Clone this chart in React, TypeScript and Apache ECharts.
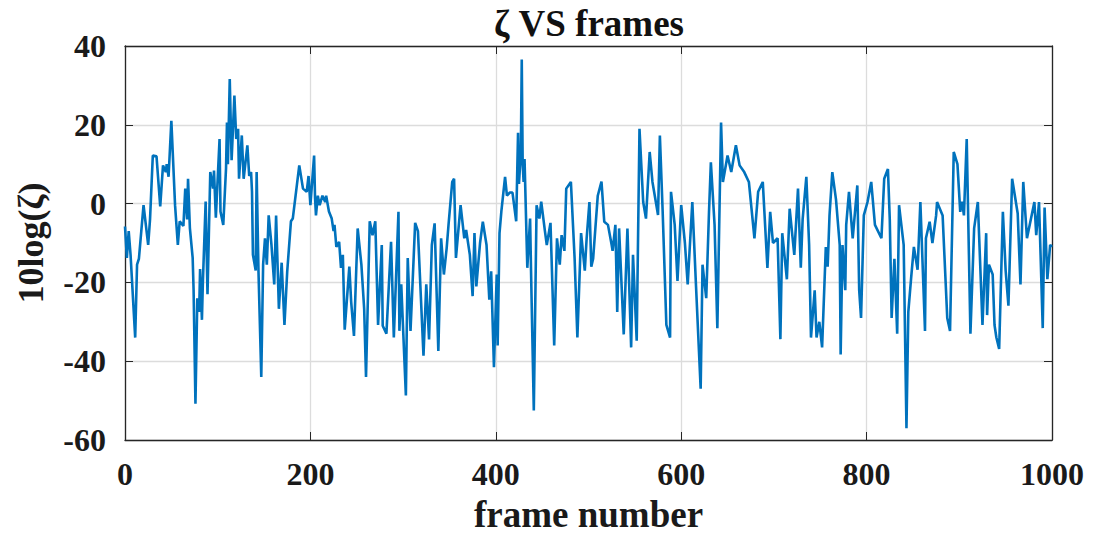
import React, { useEffect, useRef } from "react";
import * as echarts from "echarts";

// Frame indices at which the zeta trace is sampled
const frames: number[] = [
  0, 2, 4, 6, 11, 13, 15, 20, 25, 27, 30, 34, 38, 41, 44, 45, 47, 50, 54, 57,
  59, 63, 65, 67, 68, 70, 73, 74, 76, 78, 80, 81, 83, 84, 87, 89, 92, 95, 96, 98,
  102, 103, 106, 109, 110, 111, 113, 115, 118,
  120, 122, 123, 126, 128, 132, 134, 136, 137, 138, 141, 142, 144, 147, 149, 151,
  153, 155, 158, 161, 163, 166, 169, 172, 175, 179, 181, 188, 192, 196, 198, 200,
  204, 205, 206, 208, 210, 213, 216, 217, 220, 223, 225, 226, 228, 231, 233, 235, 237, 242,
  244, 247, 251, 255, 258, 260, 264, 267, 270, 273, 277, 278, 282, 287, 290, 295,
  296, 298, 303, 305, 308, 313, 316, 322, 325, 328, 331, 334, 338, 341, 344, 347,
  349, 353, 355, 357, 362, 366,
  368, 372, 375, 377, 379, 383, 386, 390, 393, 395, 398, 401, 402, 404, 406, 410,
  412, 415, 418, 422, 424, 425, 427, 428, 429, 430, 431, 434, 437, 438, 441, 444,
  447, 449, 453, 455, 459, 463, 466, 469, 471, 474, 476, 481, 485, 488, 492,
  496, 498, 501, 503, 505, 510, 514, 517, 521, 525, 526, 529, 531, 533, 538, 542,
  546, 548, 552, 555, 559, 562, 566, 569, 575, 577, 580, 584, 588, 589, 593, 596,
  600, 604, 607, 612, 616,
  621, 623, 627, 630, 632, 636, 639, 643, 645, 650, 654, 659, 663, 668, 673, 679,
  683, 688, 693, 696, 699, 704, 707, 709, 714, 717, 722, 726, 729, 731, 735, 738,
  740, 744, 746, 749, 752, 756, 758, 760, 763, 767, 771, 772, 774, 777, 778, 781,
  785, 790, 792, 794, 797, 801, 805, 809, 816, 819, 823, 825, 827, 830, 833, 835,
  840, 843, 845, 848, 851, 855, 858, 863,
  864, 868, 871, 875, 876, 882, 887, 890, 894, 898, 901, 903, 905, 908, 912, 916,
  920, 925, 929, 930, 932, 936, 938, 940, 943, 947, 950, 953, 957, 963, 966, 969,
  973, 981, 983, 986, 990, 992, 995, 998, 1000,
];

// 10log(zeta) in dB at each sampled frame
const zeta: number[] = [
  -5.8, -13.8, -7, -13, -34, -15.5, -14, -0.4, -10.5, -4, 12.2, 12, -0.7, 9.7, 8, 10, 6.8, 21, -0.4, -10.5,
  -4.5, -5.7, 3.8, -4, 6.3, -6.2, -13.8, -22, -50.8, -24, -27.5, -16.6, -29.5, -20, 0.5, -23, 8, 3.8, 8.4, -3.6,
  16.4, -2, -5.4, 9, 20.6, 10, 31.6, 11, 27.4,
  16.4, 19, 6.3, 17.3, 6.3, 14.8, 7, 8, 3, -13, -17, 8, -17.2, -44, -15.5, -8.8,
  -15.5, -3, -10.5, -20.5, -3, -26.7, -15, -30.8, -17.2, -4.5, -3.8, 9.7, 3.8, 3, 7, -0.4,
  12.2, 1.5, -3, 2, -0.4, 2, 0.4, 2, -2, -3.8, -7, -5.4, -11, -9.7, -16.3, -13, -32, -16,
  -25, -33.6, -6.3, -15.5, -26.7, -44, -4.5, -8, -4.5, -30.8, -10.5, -31, -33, -9.7, -34, -2.1,
  -32.3, -20.5, -48.7, -13.8, -32.3, -4.9, -7, -38.6, -20.5, -34.5, -10.5, -5, -37.4, -8.8, -18, -11.3,
  -5.4, 5.5, 6.3, -13.8, -0.4, -8.8,
  -6.7, -13, -23.5, -7.5, -21, -10, -4.6, -10.5, -24.4, -17.2, -41.5, -18, -36, -7.5, -2, 6.8,
  2, 2.8, 2.8, -4.5, 18, 5, 13, 36.6, 10, 5.5, 11.3, -16.3, -3.8, -17, -52.5, -0.4,
  -3.8, 0.5, -7, -10.5, -4.9, -36, -8.8, -15.5, -8, -12, 3.8, 5.5, -13.8, -34, -7.5,
  -17, -8.8, 0.4, -16, -14, 2, 5.6, -4.6, -5.4, -10.5, -12, -5.4, -27.5, -6.3, -33.2, -6.3,
  -36.5, -13, -34.8, 19, 0.4, -3.8, 13.1, 5.5, -2.9, 17.3, -2, -30.8, -34, 3, -5.4, -19.6,
  -0.4, -10, -20.5, 0.4, -21,
  -47, -15.5, -24, -2.1, 10.5, -5.4, -31.6, 20.6, 5.5, 12.2, 8, 14.8, 9.7, 8, 5.5, -8.8,
  3, 5.5, -16.3, -2.1, -10, -8.8, -34.4, -7.5, -19.2, -1.3, -13, 3.8, -16.3, -4, 6.8, -10.5,
  -34, -22, -34, -30, -36.5, -11, -16, -3, 8, 1, -10.5, -38.3, -10.5, -22, -5.4, 3,
  -8.8, 4.6, -22, -29, -3, 0.4, 5.5, -5.4, -8.8, 6.3, 8.8, -4, -29, -14, -33, -0.4,
  -10.5, -57, -27.5, -19, -11, -16.8, 0.4, -32.3,
  -8.8, -4.6, -10, -3, 0.4, -3, -29, -32.3, 13.1, 10, -2.1, 0.5, -3, 16.4, -33, -6.3,
  0.4, -30.8, -7.5, -28.3, -15.5, -18, -30.8, -34, -36.9, -2.1, -17, -25.9, 6.3, -2.5, -20.5, 5.5,
  -8.8, 0.4, -8, 0.4, -31.6, -1, -19.2, -10.5, -11,
];

const xTicks = [0, 200, 400, 600, 800, 1000];
const yTicks = [-60, -40, -20, 0, 20, 40];

const FONT = "'Liberation Serif', 'Times New Roman', serif";
const AXIS_COLOR = "#262626";

export default function App() {
  const ref = useRef<HTMLDivElement>(null);

  useEffect(() => {
    document.body.style.margin = "0";
    const el = ref.current;
    if (!el) return;
    const chart = echarts.init(el, undefined, { renderer: "svg" });

    const points = frames.map((f, i) => [f, zeta[i]]);
    const xMin = xTicks[0];
    const xMax = xTicks[xTicks.length - 1];
    const yMin = yTicks[0];
    const yMax = yTicks[yTicks.length - 1];

    const labelStyle = {
      fontFamily: FONT,
      fontWeight: "bold" as const,
      fontSize: 32,
      color: "#1a1a1a",
    };
    const frameLine = { show: true, onZero: false, lineStyle: { color: AXIS_COLOR, width: 1.3 } };
    const inTicks = { show: true, inside: true, length: 8, lineStyle: { color: AXIS_COLOR } };
    const grid = { show: true, lineStyle: { color: "#dcdcdc", width: 1.3 } };

    chart.setOption({
      animation: false,
      backgroundColor: "#ffffff",
      title: {
        text: "ζ VS frames",
        left: 584,
        top: 0,
        textAlign: "center",
        textStyle: {
          fontFamily: FONT,
          fontWeight: "bold",
          fontSize: 37,
          color: "#111111",
        },
      },
      grid: { left: 125, top: 46, width: 927, height: 398, containLabel: false },
      xAxis: [
        {
          type: "value",
          min: xMin,
          max: xMax,
          interval: 200,
          position: "bottom",
          name: "frame number",
          nameLocation: "middle",
          nameGap: 56,
          nameTextStyle: { ...labelStyle, fontSize: 37 },
          axisLine: frameLine,
          axisTick: inTicks,
          axisLabel: { ...labelStyle, margin: 18, formatter: (v: number) => String(v) },
          splitLine: grid,
        },
        {
          type: "value",
          min: xMin,
          max: xMax,
          interval: 200,
          position: "top",
          axisLine: frameLine,
          axisTick: inTicks,
          axisLabel: { show: false },
          splitLine: { show: false },
        },
      ],
      yAxis: [
        {
          type: "value",
          min: yMin,
          max: yMax,
          interval: 20,
          position: "left",
          name: "10log(ζ)",
          nameLocation: "middle",
          nameGap: 76,
          nameTextStyle: { ...labelStyle, fontSize: 36 },
          axisLine: frameLine,
          axisTick: inTicks,
          axisLabel: { ...labelStyle, margin: 19, formatter: (v: number) => String(v) },
          splitLine: grid,
        },
        {
          type: "value",
          min: yMin,
          max: yMax,
          interval: 20,
          position: "right",
          axisLine: frameLine,
          axisTick: inTicks,
          axisLabel: { show: false },
          splitLine: { show: false },
        },
      ],
      series: [
        {
          type: "line",
          data: points,
          xAxisIndex: 0,
          yAxisIndex: 0,
          showSymbol: false,
          symbol: "none",
          lineStyle: { color: "#0072BD", width: 2.6 },
          z: 3,
        },
      ],
    });

    return () => chart.dispose();
  }, []);

  return <div ref={ref} style={{ width: 1099, height: 538 }} />;
}
